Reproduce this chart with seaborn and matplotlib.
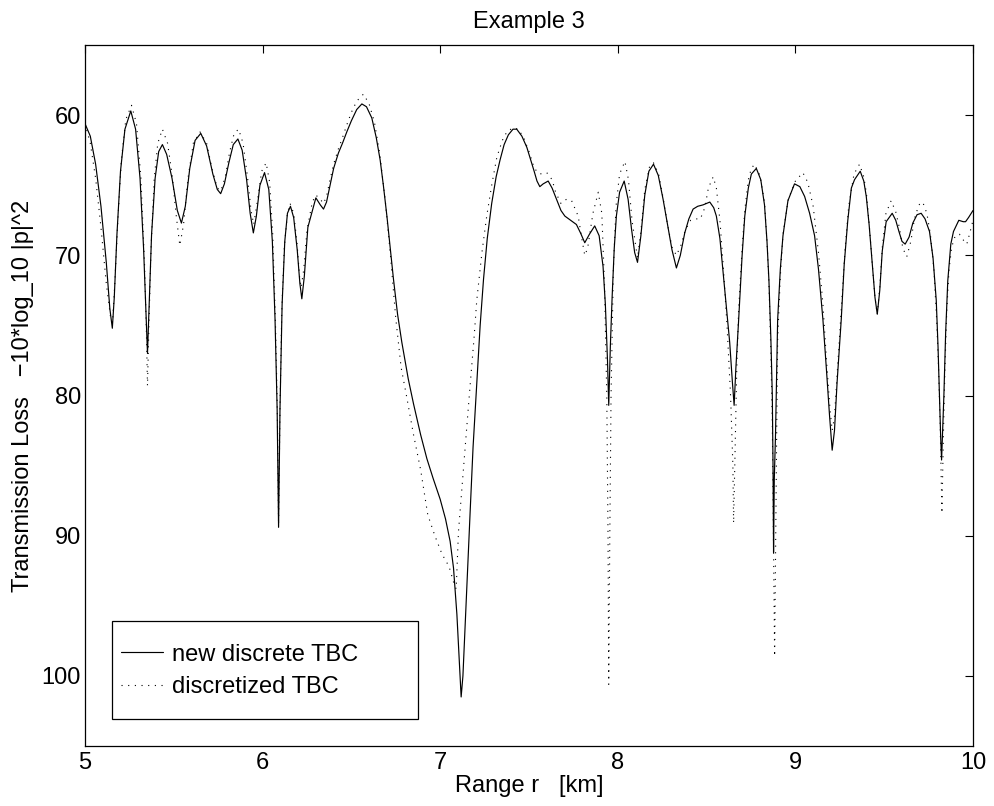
import matplotlib
matplotlib.use("Agg")
import matplotlib.pyplot as plt
from matplotlib.patches import Rectangle
import seaborn as sns

# new discrete TBC (solid)
range_new = [
    5.000, 5.030, 5.060, 5.090, 5.120, 5.140, 5.154, 5.165, 5.180, 5.200, 5.225, 5.258, 5.285, 5.310,
    5.330, 5.343, 5.352, 5.360, 5.375, 5.395, 5.415, 5.436, 5.460, 5.490, 5.520, 5.543, 5.565, 5.590,
    5.620, 5.652, 5.685, 5.720, 5.745, 5.764, 5.785, 5.810, 5.835, 5.861, 5.885, 5.910, 5.930, 5.948,
    5.965, 5.985, 6.011, 6.035, 6.055, 6.070, 6.082, 6.090, 6.098, 6.110, 6.125, 6.140, 6.157, 6.175,
    6.195, 6.210, 6.221, 6.235, 6.255, 6.300, 6.325, 6.343, 6.360, 6.380, 6.400, 6.427, 6.450, 6.474,
    6.500, 6.530, 6.559, 6.585, 6.615, 6.640, 6.662, 6.680, 6.700, 6.720, 6.737, 6.760, 6.784, 6.820,
    6.850, 6.890, 6.925, 6.960, 7.000, 7.030, 7.056, 7.075, 7.094, 7.108, 7.118, 7.128, 7.140, 7.155,
    7.169, 7.185, 7.206, 7.225, 7.244, 7.265, 7.290, 7.315, 7.337, 7.360, 7.384, 7.410, 7.431, 7.460,
    7.488, 7.510, 7.529, 7.545, 7.561, 7.580, 7.608, 7.630, 7.655, 7.680, 7.702, 7.735, 7.767, 7.790,
    7.814, 7.840, 7.870, 7.895, 7.917, 7.930, 7.942, 7.949, 7.958, 7.968, 7.980, 7.992, 8.010, 8.036,
    8.058, 8.077, 8.095, 8.111, 8.130, 8.152, 8.175, 8.201, 8.228, 8.255, 8.280, 8.305, 8.330, 8.352,
    8.377, 8.400, 8.424, 8.450, 8.480, 8.518, 8.540, 8.555, 8.575, 8.595, 8.612, 8.630, 8.645, 8.655,
    8.665, 8.680, 8.700, 8.715, 8.735, 8.752, 8.780, 8.805, 8.826, 8.840, 8.851, 8.862, 8.870, 8.874,
    8.877, 8.881, 8.888, 8.894, 8.900, 8.915, 8.930, 8.958, 8.995, 9.025, 9.052, 9.080, 9.108, 9.130,
    9.155, 9.175, 9.192, 9.207, 9.220, 9.235, 9.258, 9.275, 9.295, 9.315, 9.333, 9.365, 9.385, 9.399,
    9.415, 9.432, 9.448, 9.461, 9.475, 9.489, 9.511, 9.545, 9.565, 9.583, 9.600, 9.618, 9.640, 9.661,
    9.685, 9.708, 9.730, 9.755, 9.775, 9.793, 9.803, 9.811, 9.818, 9.823, 9.829, 9.836, 9.846, 9.858,
    9.875, 9.890, 9.920, 9.945, 9.958, 9.975, 10.000,
]
tl_new = [
    60.6, 61.5, 63.5, 66.5, 70.5, 73.8, 75.2, 73.0, 68.5, 64.0, 61.0, 59.7, 61.0, 64.5,
    69.5, 74.0, 77.0, 74.0, 68.5, 64.5, 62.6, 62.1, 62.8, 64.5, 66.8, 67.7, 66.5, 63.8,
    61.8, 61.3, 62.2, 64.2, 65.3, 65.6, 64.9, 63.4, 62.1, 61.7, 62.5, 64.6, 67.0, 68.4,
    67.2, 65.0, 64.1, 65.3, 69.0, 74.5, 81.0, 89.4, 81.0, 73.5, 69.0, 67.0, 66.5, 67.3,
    69.6, 72.0, 73.1, 71.5, 68.0, 65.9, 66.4, 66.7, 66.2, 65.0, 63.8, 62.7, 62.0, 61.2,
    60.4, 59.6, 59.2, 59.4, 60.2, 61.6, 63.2, 65.0, 67.2, 69.6, 71.7, 74.2, 76.2, 78.8,
    80.6, 82.8, 84.5, 85.9, 87.4, 88.8, 90.4, 92.3, 95.6, 99.0, 101.5, 100.0, 96.5, 92.0,
    88.2, 83.7, 79.2, 75.0, 71.7, 68.8, 66.3, 64.4, 63.2, 62.1, 61.4, 61.0, 61.0, 61.5,
    62.3, 63.2, 64.0, 64.7, 65.1, 64.9, 64.7, 65.2, 66.0, 66.8, 67.2, 67.5, 67.8, 68.4,
    69.1, 68.5, 67.9, 68.6, 70.8, 73.5, 77.5, 80.7, 76.5, 73.0, 69.5, 67.2, 65.5, 64.7,
    66.0, 68.1, 69.8, 70.5, 68.6, 65.7, 64.0, 63.5, 64.3, 66.0, 67.8, 69.6, 70.9, 70.0,
    68.4, 67.4, 66.7, 66.5, 66.4, 66.2, 66.6, 67.2, 68.8, 71.5, 73.8, 76.2, 79.0, 80.7,
    78.0, 74.7, 70.0, 67.2, 65.2, 64.2, 63.8, 64.6, 66.4, 69.0, 71.8, 76.0, 80.0, 85.0,
    91.2, 86.0, 82.8, 78.5, 74.6, 71.0, 68.6, 66.1, 64.9, 65.1, 65.8, 67.0, 68.6, 71.0,
    74.6, 78.2, 81.4, 83.9, 82.5, 79.0, 74.6, 70.6, 67.5, 65.2, 64.6, 64.0, 64.7, 65.8,
    67.8, 70.5, 73.0, 74.2, 72.5, 69.7, 67.6, 67.0, 67.5, 68.3, 69.0, 69.2, 68.7, 67.7,
    67.1, 67.0, 67.4, 68.3, 70.2, 73.2, 76.5, 80.0, 83.0, 84.6, 82.5, 80.0, 75.5, 71.8,
    69.2, 68.3, 67.5, 67.6, 67.6, 67.3, 66.8,
]

# discretized TBC (dotted)
range_old = [
    5.000, 5.030, 5.060, 5.090, 5.120, 5.145, 5.155, 5.168, 5.185, 5.205, 5.230, 5.262, 5.290, 5.315,
    5.335, 5.345, 5.352, 5.360, 5.372, 5.390, 5.410, 5.436, 5.465, 5.490, 5.515, 5.534, 5.555, 5.580,
    5.610, 5.648, 5.685, 5.715, 5.745, 5.765, 5.790, 5.815, 5.840, 5.865, 5.890, 5.915, 5.935, 5.950,
    5.970, 5.995, 6.020, 6.040, 6.057, 6.072, 6.083, 6.090, 6.098, 6.108, 6.122, 6.140, 6.155, 6.175,
    6.193, 6.208, 6.217, 6.232, 6.250, 6.280, 6.300, 6.325, 6.343, 6.360, 6.380, 6.400, 6.427, 6.450,
    6.474, 6.500, 6.530, 6.568, 6.600, 6.630, 6.660, 6.690, 6.720, 6.750, 6.780, 6.810, 6.850, 6.890,
    6.930, 6.970, 7.010, 7.050, 7.075, 7.090, 7.103, 7.131, 7.150, 7.169, 7.190, 7.206, 7.235, 7.262,
    7.290, 7.319, 7.350, 7.375, 7.410, 7.440, 7.470, 7.500, 7.530, 7.560, 7.600, 7.630, 7.650, 7.680,
    7.711, 7.740, 7.777, 7.800, 7.814, 7.830, 7.860, 7.890, 7.910, 7.925, 7.938, 7.945, 7.949, 7.955,
    7.962, 7.975, 7.990, 8.010, 8.040, 8.060, 8.080, 8.111, 8.130, 8.152, 8.180, 8.201, 8.230, 8.255,
    8.280, 8.305, 8.330, 8.355, 8.380, 8.410, 8.440, 8.465, 8.490, 8.510, 8.537, 8.555, 8.575, 8.595,
    8.615, 8.635, 8.648, 8.652, 8.660, 8.670, 8.680, 8.700, 8.715, 8.735, 8.752, 8.770, 8.800, 8.826,
    8.840, 8.851, 8.862, 8.870, 8.876, 8.883, 8.889, 8.895, 8.900, 8.915, 8.930, 8.960, 9.000, 9.042,
    9.070, 9.100, 9.130, 9.155, 9.175, 9.195, 9.207, 9.220, 9.240, 9.260, 9.280, 9.300, 9.330, 9.361,
    9.385, 9.400, 9.415, 9.432, 9.448, 9.461, 9.475, 9.490, 9.510, 9.539, 9.565, 9.585, 9.605, 9.627,
    9.650, 9.670, 9.695, 9.717, 9.740, 9.760, 9.780, 9.795, 9.806, 9.815, 9.825, 9.833, 9.842, 9.852,
    9.865, 9.880, 9.900, 9.924, 9.945, 9.965, 9.980, 10.000,
]
tl_old = [
    60.6, 62.0, 64.5, 68.0, 72.0, 74.5, 74.8, 72.0, 67.5, 63.2, 60.3, 59.3, 60.6, 64.5,
    70.5, 75.0, 79.3, 75.0, 69.5, 64.5, 62.0, 61.0, 62.0, 64.2, 67.3, 69.3, 67.8, 64.5,
    62.0, 61.2, 62.0, 63.8, 65.2, 65.4, 64.4, 62.6, 61.3, 61.0, 62.0, 64.4, 66.8, 67.8,
    66.2, 64.0, 63.4, 64.8, 68.5, 74.5, 81.0, 89.2, 81.0, 74.0, 69.5, 67.0, 66.3, 67.0,
    69.0, 71.5, 72.3, 71.0, 68.2, 66.2, 65.7, 66.0, 66.3, 65.8, 64.6, 63.5, 62.4, 61.6,
    60.7, 59.8, 59.0, 58.5, 59.2, 60.5, 62.8, 66.0, 70.0, 74.5, 78.0, 80.0, 82.8, 85.3,
    88.5, 90.0, 91.3, 92.2, 93.3, 93.8, 89.7, 85.2, 82.2, 79.2, 76.0, 73.2, 69.8, 67.2,
    65.0, 63.0, 61.8, 61.2, 60.9, 61.0, 61.6, 62.6, 63.8, 64.2, 64.1, 64.6, 65.5, 66.3,
    66.0, 66.1, 67.2, 69.0, 70.0, 69.5, 67.0, 65.5, 67.0, 72.0, 80.0, 90.0, 100.6, 90.0,
    80.0, 71.0, 66.5, 64.2, 63.3, 64.6, 67.5, 70.2, 68.3, 65.3, 63.6, 63.4, 64.2, 65.9,
    67.8, 69.4, 70.0, 69.3, 68.2, 67.5, 67.4, 67.4, 66.6, 65.2, 64.4, 65.2, 67.5, 71.0,
    75.0, 80.0, 85.0, 89.1, 84.0, 78.0, 74.0, 69.5, 66.8, 64.6, 63.8, 63.5, 64.3, 66.2,
    69.0, 72.0, 77.0, 82.0, 90.0, 98.6, 90.0, 82.0, 76.0, 71.5, 68.5, 66.0, 64.7, 64.1,
    64.8, 66.5, 69.8, 73.5, 77.5, 81.0, 82.5, 81.5, 77.5, 73.5, 69.5, 66.5, 64.2, 63.5,
    64.4, 65.6, 67.7, 70.5, 73.0, 74.2, 72.3, 69.3, 67.0, 66.1, 66.9, 68.0, 69.5, 70.1,
    69.0, 67.4, 66.4, 66.2, 67.0, 68.5, 71.0, 74.5, 78.0, 82.0, 88.4, 83.0, 78.0, 74.0,
    71.0, 69.4, 68.6, 68.5, 68.9, 69.2, 68.5, 67.5,
]

x_ticks = [5, 6, 7, 8, 9, 10]
y_ticks = [60, 70, 80, 90, 100]

sns.set_theme(style="white")
plt.rcParams["font.family"] = ["Liberation Sans", "DejaVu Sans"]
plt.rcParams["text.color"] = "black"
plt.rcParams["axes.labelcolor"] = "black"
fs = 17

fig = plt.figure(figsize=(9.95, 8.06), dpi=100)
ax = fig.add_axes([0.0854, 0.0744, 0.8925, 0.8697])

sns.lineplot(x=range_new, y=tl_new, ax=ax, color="black", linewidth=0.85,
             label="new discrete TBC", sort=False)
sns.lineplot(x=range_old, y=tl_old, ax=ax, color="black", linewidth=0.8,
             linestyle=(0, (1, 5)), label="discretized TBC", sort=False)

ax.set_xlim(5, 10)
ax.set_ylim(105, 55)
ax.set_xticks(x_ticks)
ax.set_yticks(y_ticks)
ax.tick_params(direction="in", length=6, width=0.8, top=True, right=True,
               labelsize=fs, colors="black")
ax.tick_params(axis="x", pad=4)
ax.tick_params(axis="y", pad=3)
for s in ax.spines.values():
    s.set_color("black")
    s.set_linewidth(0.9)

ax.set_title("Example 3", fontsize=fs, pad=12, color="black")
ax.set_xlabel("Range r   [km]", fontsize=fs, labelpad=1, color="black")
ax.set_ylabel("Transmission Loss   \u221210*log_10 |p|^2", fontsize=fs, labelpad=5, color="black")

# legend box drawn like the MATLAB one, content placed inside it
ax.add_patch(Rectangle((0.0304, 0.0385), 0.3446, 0.1398, transform=ax.transAxes,
                       facecolor="white", edgecolor="black", linewidth=0.9, zorder=4))
leg = ax.legend(loc="center left", bbox_to_anchor=(0.0405, 0.107), fontsize=fs,
                frameon=False, handlelength=1.8, handletextpad=0.38, borderpad=0,
                labelspacing=0.45, borderaxespad=0)
for t in leg.get_texts():
    t.set_color("black")
leg.set_zorder(5)

fig.savefig("out.png", dpi=100)
